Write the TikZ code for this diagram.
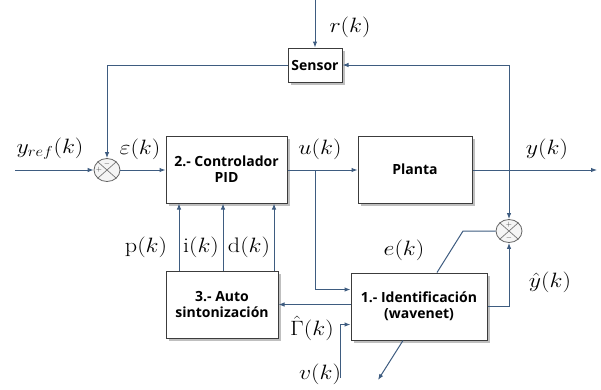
\documentclass[tikz,border=0pt]{standalone}
\usepackage{fontspec}
\newfontfamily\boxfont{Open Sans}
\usetikzlibrary{arrows.meta,shapes.geometric,shadows,calc}
\definecolor{wire}{RGB}{62,92,128}
\definecolor{edgec}{RGB}{60,60,60}
\begin{document}
\begin{tikzpicture}[x=1pt,y=-1pt,
  blockbox/.style={draw=edgec, line width=1pt, fill=white, rectangle, inner sep=0pt,
    font=\boxfont\bfseries\fontsize{14}{16}\selectfont, align=center,
    drop shadow={shadow xshift=2.5pt, shadow yshift=-2.5pt, fill=black!50, opacity=0.5}},
  wireline/.style={draw=wire, line width=1pt},
  arr/.style={wireline, -{Latex[length=6pt,width=4.5pt]}},
  sig/.style={font=\fontsize{21}{23}\selectfont, xscale=1.15, inner sep=0pt},
  sumj/.style={ellipse, draw=edgec!80, fill=gray!8, minimum width=26pt, minimum height=23pt, inner sep=0pt, line width=0.8pt},
  crossl/.style={draw=edgec!70, line width=0.7pt},
  signs/.style={font=\fontsize{7}{8}\selectfont, inner sep=0pt, text=edgec}
]
\useasboundingbox (0,0) rectangle (601,389);

% blocks
\node[blockbox, minimum width=54pt, minimum height=34pt] (sensor) at (315,65) {Sensor};
\node[blockbox, minimum width=121pt, minimum height=67pt] (ctrl) at (226.5,169.5) {2.- Controlador\\PID};
\node[blockbox, minimum width=114pt, minimum height=67pt] (planta) at (415,169.5) {Planta};
\node[blockbox, minimum width=136pt, minimum height=67pt] (ident) at (419,306.5) {1.- Identificación\\(wavenet)};
\node[blockbox, minimum width=112pt, minimum height=67pt] (auto) at (222,304.5) {3.- Auto\\sintonización};

% summing junctions
\node[sumj] (s1) at (107,170) {};
\draw[crossl] (s1.north east) -- (s1.south west) (s1.north west) -- (s1.south east);
\node[signs] at ($(s1.center)+(0,-6.5)$) {$-$};
\node[signs] at ($(s1.center)+(-8,0)$) {$+$};
\node[sumj] (s2) at (509,231) {};
\draw[crossl] (s2.north east) -- (s2.south west) (s2.north west) -- (s2.south east);
\node[signs] at ($(s2.center)+(0,-6.5)$) {$+$};
\node[signs] at ($(s2.center)+(0,6.5)$) {$-$};

% free ends
\coordinate (yin) at (15,170);
\coordinate (rin) at (315,0);
\coordinate (yout) at (597,170);
\coordinate (ubr) at (315,170);
\coordinate (fb) at (509,65);
\coordinate (ek) at (463,231);
\coordinate (vin) at (340,378);
\coordinate (dz) at (378,380);

% connectors
\draw[arr] (yin) -- (s1.west);
\draw[arr] (s1.east) -- (s1.east -| ctrl.west);
\draw[arr] (sensor.west) -| (s1.north);
\draw[arr] (rin) -- (sensor.north);
\draw[arr] (ctrl.east |- ubr) -- (planta.west |- ubr);
\draw[arr] (ubr) |- ([yshift=17pt]ident.west);
\draw[arr] (planta.east |- yout) -- (yout);
\draw[arr] (fb) -- (sensor.east);
\draw[arr] (fb) -- (s2.north);
\draw[arr] (ident.east) -| (s2.south);
\draw[wireline] (s2.west) -- (ek) -- ([xshift=18pt]ident.north);
\draw[arr] (ident.west |- auto.east) -- (auto.east);
\draw[arr] (vin) |- ([yshift=-18pt]ident.west);
\draw[arr] ([xshift=-16pt]ident.south) -- (dz);
\draw[arr] ([xshift=-43pt]auto.north) -- ([xshift=-43pt]auto.north |- ctrl.south);
\draw[arr] ([xshift=1pt]auto.north) -- ([xshift=1pt]auto.north |- ctrl.south);
\draw[arr] ([xshift=52pt]auto.north) -- ([xshift=52pt]auto.north |- ctrl.south);

% labels
\node[sig] (lyref) at (50,149) {$y_{ref}(k)$};
\node[sig] (leps) at (140,149) {$\varepsilon(k)$};
\node[sig] (lr) at (350,27) {$r(k)$};
\node[sig] (lu) at (320,149) {$u(k)$};
\node[sig] (ly) at (547,149) {$y(k)$};
\node[sig] (le) at (404,250) {$e(k)$};
\node[sig] (lyh) at (550,282) {$\hat{y}(k)$};
\node[sig] (lp) at (146,247) {$\mathrm{p}(k)$};
\node[sig] (li) at (201,247) {$\mathrm{i}(k)$};
\node[sig] (ld) at (249,247) {$\mathrm{d}(k)$};
\node[sig] (lg) at (312,328) {$\hat{\Gamma}(k)$};
\node[sig] (lv) at (320,374) {$v(k)$};
\end{tikzpicture}
\end{document}
